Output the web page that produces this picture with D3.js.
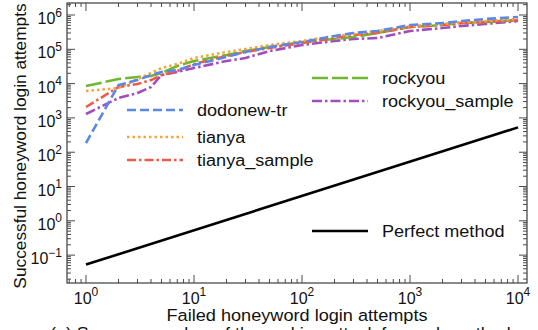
<!DOCTYPE html>
<html>
<head>
<meta charset="utf-8">
<script src="https://cdn.jsdelivr.net/npm/d3@7"></script>
<style>
  html, body { margin: 0; padding: 0; background: #fff; }
  svg { display: block; font-family: "Liberation Sans", Arial, Helvetica, sans-serif; }
</style>
</head>
<body>
<svg id="chart" width="538" height="330"></svg>
<script>
// ---- data ----
const xGrid = [1, 2, 3, 4, 5, 7, 10, 20, 30, 50, 100, 200, 300, 500, 1000, 2000, 3000, 5000, 10000];
const dodonewTr     = [185, 9100, 12700, 17800, 21800, 24900, 34900, 59700, 83400, 117000, 163000, 244000, 299000, 342000, 511000, 584000, 668000, 765000, 875000];
const tianya        = [6080, 7440, 13600, 20400, 28500, 37300, 55800, 83400, 102000, 133000, 175000, 244000, 279000, 342000, 478000, 547000, 625000, 668000, 765000];
const tianyaSample  = [2080, 7960, 9730, 12700, 17800, 23300, 37300, 64000, 83400, 109000, 153000, 213000, 261000, 299000, 447000, 511000, 584000, 625000, 714000];
const rockyou       = [8500, 13600, 15600, 16600, 20400, 32600, 45600, 68200, 89200, 117000, 163000, 200000, 228000, 299000, 447000, 511000, 584000, 625000, 714000];
const rockyouSample = [1300, 3800, 5320, 7960, 17800, 21800, 28500, 45600, 55800, 89200, 133000, 175000, 200000, 213000, 342000, 418000, 478000, 547000, 668000];
const perfectX = [1, 10000];
const perfectY = [0.053, 530];
const seriesNames = ["dodonew-tr", "tianya", "tianya_sample", "rockyou", "rockyou_sample", "Perfect method"];
const xTickExps = [0, 1, 2, 3, 4];
const yTickExps = [-1, 0, 1, 2, 3, 4, 5, 6];
const xLabel = "Failed honeyword login attempts";
const yLabel = "Successful honeyword login attempts";
const caption = "(a) Success number of the ranking attack for each method";

// ---- layout ----
const L = 67, R = 527, T = 3, B = 283;
const svg = d3.select("#chart");
const x = d3.scaleLog().domain([0.667, 12110]).range([L, R]);
const y = d3.scaleLog().domain([0.0154, 2.24e6]).range([B, T]);

const styles = [
  { data: dodonewTr,     color: "#5b87e6", dash: "9,4",       lx: 127, ly: 110, tx: 197 },
  { data: tianya,        color: "#f8a23a", dash: "2.5,3",     lx: 127, ly: 137, tx: 197 },
  { data: tianyaSample,  color: "#ee5a44", dash: "9,3,2.5,3", lx: 127, ly: 160, tx: 197 },
  { data: rockyou,       color: "#6cb92f", dash: "16,4",      lx: 312, ly: 78,  tx: 382 },
  { data: rockyouSample, color: "#a24cc0", dash: "10,3,2.5,3",lx: 312, ly: 101, tx: 382 }
];

const line = d3.line().x(d => x(d[0])).y(d => y(d[1]));

function stext(parent, tx, ty, str, size, sx, anchor) {
  return parent.append("g").attr("transform", `translate(${tx},${ty}) scale(${sx},1)`)
    .append("text").attr("x", 0).attr("y", 0).attr("font-size", size)
    .attr("text-anchor", anchor || "start").attr("fill", "#111").text(str);
}

svg.append("clipPath").attr("id", "clip").append("rect")
  .attr("x", L).attr("y", T).attr("width", R - L).attr("height", B - T);
const g = svg.append("g").attr("clip-path", "url(#clip)");

g.append("path").datum(perfectX.map((v, i) => [v, perfectY[i]]))
  .attr("d", line).attr("fill", "none").attr("stroke", "#000").attr("stroke-width", 2.6);

styles.slice().reverse().forEach(s => {
  g.append("path").datum(xGrid.map((v, i) => [v, s.data[i]]))
    .attr("d", line).attr("fill", "none")
    .attr("stroke", s.color).attr("stroke-width", 2.6)
    .attr("stroke-dasharray", s.dash).attr("stroke-linejoin", "round");
});

// ---- axes frame ----
const axisColor = "#4a4a4a";
svg.append("rect").attr("x", L).attr("y", T).attr("width", R - L).attr("height", B - T)
  .attr("fill", "none").attr("stroke", axisColor).attr("stroke-width", 1.3);

const ticks = svg.append("g").attr("stroke", axisColor).attr("stroke-width", 1);
const majorLen = 8, minorLen = 4;
function minorVals(scale) {
  const [a, b] = scale.domain();
  const out = [];
  for (let e = Math.floor(Math.log10(a)); e <= Math.ceil(Math.log10(b)); e++) {
    for (let m = 2; m <= 9; m++) {
      const v = m * Math.pow(10, e);
      if (v >= a && v <= b) out.push(v);
    }
  }
  return out;
}
xTickExps.forEach(e => {
  const px = x(Math.pow(10, e));
  ticks.append("line").attr("x1", px).attr("x2", px).attr("y1", B).attr("y2", B - majorLen);
  ticks.append("line").attr("x1", px).attr("x2", px).attr("y1", T).attr("y2", T + majorLen);
});
minorVals(x).forEach(v => {
  const px = x(v);
  ticks.append("line").attr("x1", px).attr("x2", px).attr("y1", B).attr("y2", B - minorLen);
  ticks.append("line").attr("x1", px).attr("x2", px).attr("y1", T).attr("y2", T + minorLen);
});
yTickExps.forEach(e => {
  const py = y(Math.pow(10, e));
  ticks.append("line").attr("y1", py).attr("y2", py).attr("x1", L).attr("x2", L + majorLen);
  ticks.append("line").attr("y1", py).attr("y2", py).attr("x1", R).attr("x2", R - majorLen);
});
minorVals(y).forEach(v => {
  const py = y(v);
  ticks.append("line").attr("y1", py).attr("y2", py).attr("x1", L).attr("x2", L + minorLen);
  ticks.append("line").attr("y1", py).attr("y2", py).attr("x1", R).attr("x2", R - minorLen);
});

// tick labels
const fs = 16, sfs = 12;
function expText(e) { return e < 0 ? "\u2212" + (-e) : String(e); }
xTickExps.forEach(e => {
  const px = x(Math.pow(10, e));
  const t = svg.append("text").attr("x", px).attr("y", 303.5)
    .attr("text-anchor", "middle").attr("font-size", fs).attr("fill", "#111");
  t.append("tspan").text("10");
  t.append("tspan").attr("dy", -7.5).attr("font-size", sfs).text(expText(e));
});
yTickExps.forEach(e => {
  const py = y(Math.pow(10, e));
  const t = svg.append("text").attr("x", 62).attr("y", py + 9)
    .attr("text-anchor", "end").attr("font-size", fs).attr("fill", "#111");
  t.append("tspan").text("10");
  t.append("tspan").attr("dy", -7.5).attr("font-size", sfs).text(expText(e));
});

// axis labels
stext(svg, (L + R) / 2, 321, xLabel, 16.5, 1.1, "middle");
svg.append("text").attr("transform", `translate(26,${(T + B) / 2 + 3}) rotate(-90)`)
  .attr("text-anchor", "middle").attr("font-size", 17.3).attr("fill", "#111").text(yLabel);

// caption (cut off at bottom, as in the reference)
stext(svg, 50, 339, caption, 16, 1.12, "start");

// ---- legend ----
const leg = svg.append("g");
styles.forEach((s, i) => {
  leg.append("line").attr("x1", s.lx).attr("x2", s.lx + 56).attr("y1", s.ly).attr("y2", s.ly)
    .attr("stroke", s.color).attr("stroke-width", 2.6).attr("stroke-dasharray", s.dash);
  stext(leg, s.tx, s.ly + 5.8, seriesNames[i], 16, 1.13, "start");
});
leg.append("line").attr("x1", 312).attr("x2", 368).attr("y1", 231).attr("y2", 231)
  .attr("stroke", "#000").attr("stroke-width", 2.6);
stext(leg, 382, 236.8, seriesNames[5], 16, 1.13, "start");
</script>
</body>
</html>
